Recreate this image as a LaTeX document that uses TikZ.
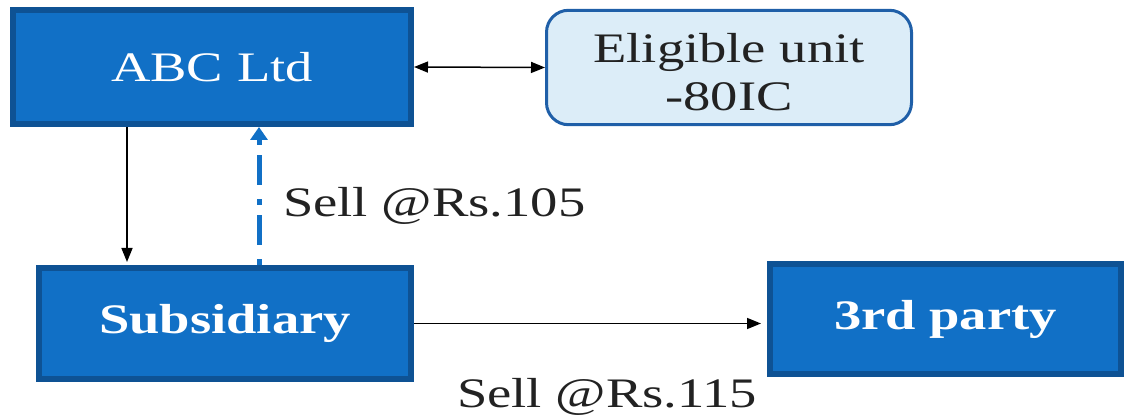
\documentclass[tikz,border=0pt]{standalone}
\usepackage{fontspec}
\usepackage{graphicx}
\setmainfont{Liberation Serif}
\usetikzlibrary{arrows.meta}
\definecolor{boxblue}{HTML}{1170C6}
\definecolor{boxedge}{HTML}{0E5294}
\definecolor{paleblue}{HTML}{DCEDF8}
\definecolor{paleedge}{HTML}{1F5FA8}
\definecolor{inkdark}{HTML}{222222}
\newcommand{\wide}[1]{\scalebox{1.3}[1]{#1}}
\tikzset{
  bluebox/.style={draw=boxedge, fill=boxblue, line width=6pt, inner sep=0pt,
    text=white, font=\fontsize{42}{48}\selectfont},
  palebox/.style={draw=paleedge, fill=paleblue, line width=3pt, inner sep=0pt,
    rounded corners=22pt, text=inkdark, font=\fontsize{42}{48}\selectfont},
  note/.style={inner sep=0pt, text=inkdark, font=\fontsize{42}{48}\selectfont},
  flow/.style={line width=1.5pt, -{Triangle[length=14pt,width=11pt]}},
  twoway/.style={line width=1.5pt, {Triangle[length=14pt,width=11pt]}-{Triangle[length=14pt,width=11pt]}},
  backflow/.style={line width=5pt, draw=boxblue,
    dash pattern=on 6pt off 14pt on 30pt off 10pt,
    -{Triangle[length=13pt,width=17pt,fill=boxblue]}}
}
\begin{document}
\begin{tikzpicture}[x=1pt,y=-1pt]
  \useasboundingbox (0,0) rectangle (1126,419);

  % entities
  \node[bluebox, minimum width=398pt, minimum height=114pt] (abc) at (212,67) {\wide{ABC Ltd}};
  \node[palebox, minimum width=365pt, minimum height=108pt] (elig) at (729,67.5)
    {\wide{\begin{tabular}{@{}c@{}}\rule{0pt}{52pt}Eligible unit\\-80IC\end{tabular}}};
  \node[bluebox, minimum width=372pt, minimum height=111pt] (sub) at (225,323.5) {\wide{\bfseries Subsidiary}};
  \node[bluebox, minimum width=351pt, minimum height=110pt] (third) at (945.5,319) {\wide{\bfseries 3rd party}};

  % connectors
  \draw[twoway] (abc.east) -- (elig.west);
  \draw[flow] ([xshift=-85pt]abc.south) -- ([xshift=-98pt,yshift=3pt]sub.north);
  \draw[backflow] ([xshift=34pt]sub.north) -- ([xshift=47pt]abc.south);
  \draw[flow] (sub.east) -- ([xshift=-6pt]sub.east -| third.west);

  % price labels
  \node[note, anchor=base west] (p105) at (283,217) {\wide{Sell @Rs.105}};
  \node[note, anchor=base west] (p115) at (457,407) {\wide{Sell @Rs.115}};
\end{tikzpicture}
\end{document}
